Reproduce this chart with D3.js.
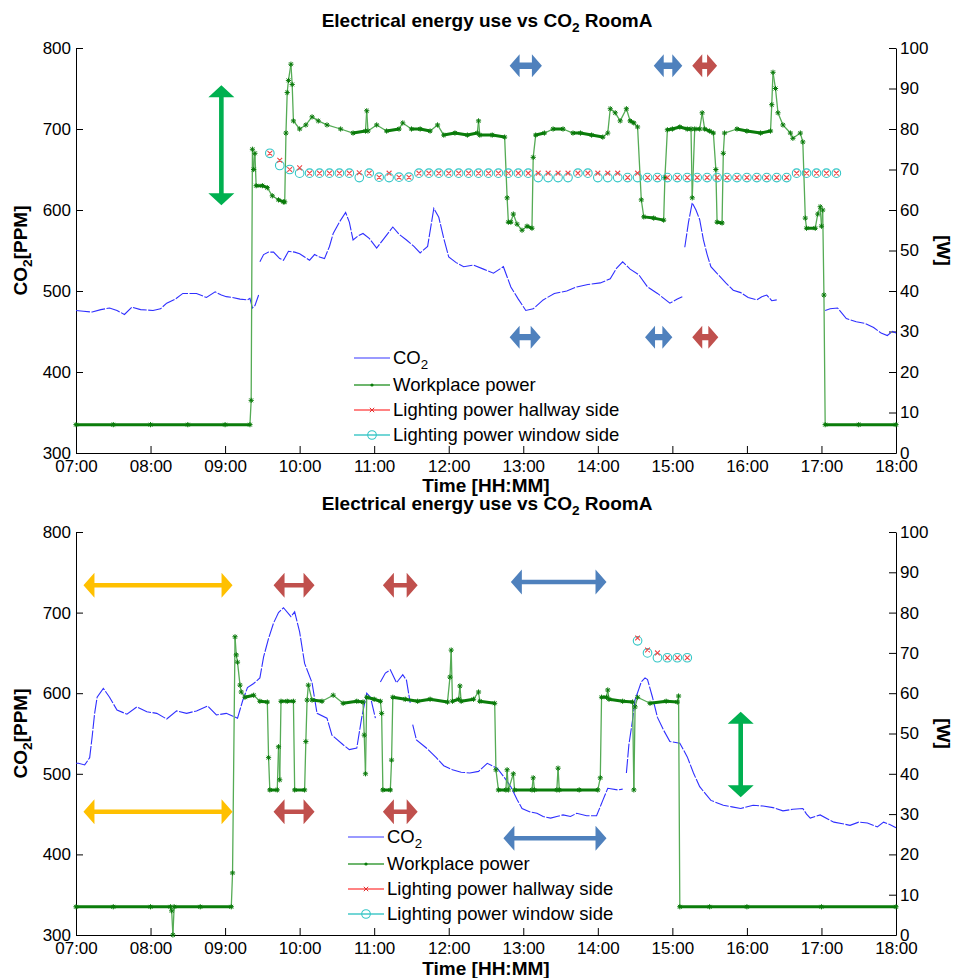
<!DOCTYPE html>
<html>
<head>
<meta charset="utf-8">
<script src="https://cdn.jsdelivr.net/npm/d3@7"></script>
<style>
body { margin: 0; background: #fff; }
svg { display: block; font-family: Arial, "Liberation Sans", sans-serif; }
</style>
</head>
<body>
<svg id="chart" width="955" height="978"></svg>
<script>
// axis ticks
var timeTicks = ["07:00","08:00","09:00","10:00","11:00","12:00","13:00","14:00","15:00","16:00","17:00","18:00"];
var co2Ticks = [300, 400, 500, 600, 700, 800];
var wattTicks = [0, 10, 20, 30, 40, 50, 60, 70, 80, 90, 100];
var seriesNames = ["CO", "Workplace power", "Lighting power hallway side", "Lighting power window side"];

// ---- upper panel ----
var co2A = [["07:00",476],["07:06",475],["07:13",474],["07:20",477],["07:27",479],["07:33",476],["07:39",471],["07:45",480],["07:52",477],["08:02",476],["08:08",478],["08:13",485],["08:20",490],["08:26",497],["08:31",497],["08:37",497],["08:45",492],["08:52",499],["08:57",495],["09:01",493],["09:06",492],["09:12",490],["09:18",489],["09:20",491],["09:22",479],["09:24",482],["09:27",495],["09:27",null],["09:28",536],["09:31",545],["09:35",548],["09:39",548],["09:44",540],["09:47",538],["09:51",549],["09:56",548],["10:00",546],["10:04",542],["10:08",538],["10:12",545],["10:16",542],["10:20",540],["10:24",555],["10:27",571],["10:32",585],["10:37",597],["10:40",585],["10:43",563],["10:47",568],["10:51",571],["10:56",565],["11:02",553],["11:08",565],["11:15",579],["11:20",570],["11:26",563],["11:32",555],["11:37",547],["11:43",555],["11:48",602],["11:52",591],["11:56",565],["12:00",542],["12:06",535],["12:12",530],["12:20",532],["12:28",527],["12:36",522],["12:44",530],["12:50",505],["12:56",490],["13:02",476],["13:08",478],["13:16",489],["13:25",497],["13:35",500],["13:43",505],["13:52",508],["14:02",510],["14:10",515],["14:15",528],["14:20",536],["14:26",527],["14:33",520],["14:40",505],["14:48",497],["14:58",485],["15:04",490],["15:08",493],["15:09",null],["15:10",554],["15:13",585],["15:16",609],["15:19",600],["15:22",588],["15:25",563],["15:28",545],["15:31",530],["15:37",520],["15:43",510],["15:49",501],["15:55",498],["16:01",492],["16:08",489],["16:12",493],["16:16",495],["16:20",488],["16:24",489],["16:40",null],["17:03",476],["17:07",478],["17:13",479],["17:20",466],["17:28",462],["17:35",460],["17:42",455],["17:48",448],["17:53",445],["17:57",450],["18:00",448]];

var workA = [["07:00",7],["07:30",7],["08:00",7],["08:30",7],["09:00",7],["09:20",7],["09:21",13],["09:22",75],["09:23",70],["09:24",74],["09:25",66],["09:30",66],["09:34",65.5],["09:38",63.5],["09:43",62.5],["09:47",62],["09:48",62],["09:49",79],["09:50",89],["09:51",92],["09:53",96],["09:54",91],["09:55",82],["10:00",80],["10:05",81],["10:10",83],["10:15",82],["10:22",81],["10:33",80],["10:43",79],["10:53",79.5],["10:54",84.5],["10:55",79.5],["11:02",81],["11:10",79.5],["11:20",80],["11:23",81.5],["11:30",80],["11:37",80],["11:45",79.5],["11:51",81],["11:56",78.5],["12:05",79],["12:15",78.5],["12:23",79],["12:24",82],["12:25",78.5],["12:35",78.5],["12:45",78],["12:47",63],["12:48",57],["12:50",57],["12:52",59],["12:55",56.5],["12:59",55],["13:03",56],["13:07",55.5],["13:08",73],["13:10",78.5],["13:17",79],["13:24",80],["13:32",80],["13:40",79],["13:46",79],["13:55",78.5],["14:04",78],["14:08",79],["14:10",85],["14:14",84],["14:18",82],["14:23",85],["14:26",82],["14:29",81.5],["14:32",80.5],["14:35",62.5],["14:37",58.3],["14:45",58],["14:53",57.5],["14:54",68],["14:56",79.8],["15:00",80],["15:06",80.5],["15:12",80],["15:15",80],["15:16",63],["15:18",80],["15:22",80],["15:24",84],["15:26",80],["15:30",79.5],["15:33",79],["15:35",70],["15:36",57],["15:40",56.8],["15:41",74],["15:42",79],["15:52",80],["16:00",79.5],["16:11",79],["16:19",79.5],["16:20",86],["16:21",94],["16:23",90],["16:25",84],["16:29",81],["16:35",79],["16:37",77.7],["16:43",79],["16:45",76.8],["16:47",58],["16:48",55.5],["16:55",55.5],["16:57",59],["16:59",60.8],["17:00",56],["17:01",60],["17:02",39],["17:03",7],["17:30",7],["18:00",7]];

// lighting samples every 8 minutes from the first time
var lightStartA = "09:36";
var hallA = [74,72.3,70,70.4,69.1,69.1,69.1,69.1,69.1,69.2,69.1,68.1,69.1,68.1,68.1,
  69.1,69.1,69.1,69.1,69.1,69.1,69.1,69.1,69.1,69.1,69.1,69.1,
  69.1,69.1,69.1,69.1,69.1,69.1,69.1,69.1,69.1,68,69.1,
  68,68,68,68,68,68,68,68,68,68,68,68,68,68,68,
  69.1,69.1,69.1,69.1,69.1];
var windowA = [74,71,70,69.1,69.1,69.1,69.1,69.1,69.1,68,69.1,68.1,68,68.1,68.1,
  69.1,69.1,69.1,69.1,69.1,69.1,69.1,69.1,69.1,69.1,69.1,69.1,
  68,68,68,68,69.1,69.1,68,68,68,68,68,
  68,68,68,68,68,68,68,68,68,68,68,68,68,68,68,
  69.1,69.1,69.1,69.1,69.1];

// annotation arrows in data units (time, ppm)
var arrowsA = [
  {c: "blue", t0: "12:49", t1: "13:15", v: 778},
  {c: "blue", t0: "14:45", t1: "15:08", v: 778},
  {c: "red",  t0: "15:16", t1: "15:36", v: 778},
  {c: "blue", t0: "12:49", t1: "13:14", v: 443},
  {c: "blue", t0: "14:38", t1: "15:00", v: 443},
  {c: "red",  t0: "15:16", t1: "15:37", v: 443}
];
var vArrowsA = [{c: "green", t: "08:57", v0: 754, v1: 606}];

// ---- lower panel ----
var co2B = [["07:00",513],["07:02",513],["07:07",511],["07:11",520],["07:13",546],["07:15",575],["07:17",595],["07:22",606],["07:27",595],["07:33",579],["07:41",574],["07:49",583],["07:57",577],["08:05",575],["08:13",568],["08:21",578],["08:29",575],["08:37",578],["08:46",584],["08:53",573],["09:01",575],["09:10",569],["09:14",590],["09:18",607],["09:23",612],["09:28",619],["09:31",645],["09:35",668],["09:39",687],["09:43",700],["09:47",706],["09:53",695],["09:56",701],["10:00",676],["10:04",637],["10:10",613],["10:14",575],["10:22",569],["10:26",548],["10:35",536],["10:40",530],["10:46",532],["10:50",570],["10:54",600],["10:57",595],["11:01",569],["11:03",null],["11:05",614],["11:09",625],["11:13",629],["11:18",613],["11:23",623],["11:26",616],["11:29",588],["11:30",null],["11:31",561],["11:34",542],["11:42",532],["11:50",520],["11:56",510],["12:03",505],["12:10",502],["12:17",501],["12:24",503],["12:31",513],["12:35",510],["12:39",507],["12:45",495],["12:50",484],["12:55",468],["12:59",457],["13:05",453],["13:11",451],["13:16",447],["13:22",445],["13:27",447],["13:32",449],["13:38",447],["13:43",451],["13:51",448],["13:59",448],["14:04",467],["14:08",482],["14:16",480],["14:20",481],["14:21",null],["14:23",501],["14:25",536],["14:28",567],["14:30",592],["14:33",605],["14:35",614],["14:38",619],["14:40",617],["14:44",595],["14:48",570],["14:53",554],["14:58",540],["15:06",538],["15:12",521],["15:17",501],["15:22",484],["15:31",467],["15:41",461],["15:48",459],["15:55",457],["16:05",461],["16:13",460],["16:21",458],["16:29",454],["16:37",456],["16:45",457],["16:48",450],["16:51",445],["16:59",449],["17:05",444],["17:10",440],["17:17",438],["17:23",436],["17:30",440],["17:37",439],["17:45",434],["17:50",440],["17:55",437],["18:00",433]];

var workB = [["07:00",7],["07:30",7],["08:00",7],["08:16",7],["08:17",6],["08:18",0],["08:19",7],["08:40",7],["09:05",7],["09:06",15.4],["09:08",74],["09:09",69.5],["09:10",67.7],["09:12",62],["09:13",60.3],["09:16",59],["09:23",59.5],["09:28",58],["09:34",57.8],["09:35",44],["09:36",36],["09:42",36],["09:43",46.7],["09:44",38.5],["09:45",58],["09:50",58],["09:55",58],["09:56",36],["10:04",36],["10:05",48],["10:06",58.3],["10:07",62],["10:10",58.3],["10:18",58],["10:27",59.5],["10:35",57.5],["10:46",58],["10:51",57.8],["10:52",49.6],["10:53",40],["10:54",59],["11:00",58.5],["11:05",58],["11:06",55],["11:07",36],["11:13",36],["11:14",43.4],["11:15",59],["11:25",58.5],["11:35",58],["11:45",58.5],["11:59",57.8],["12:01",64],["12:02",70.7],["12:03",58],["12:08",58.5],["12:09",61.8],["12:10",58],["12:20",58.5],["12:24",60.3],["12:25",58],["12:37",57.5],["12:38",41],["12:40",36],["12:46",36],["12:47",41],["12:48",36],["12:52",40],["12:53",36],["13:07",36],["13:08",39],["13:09",36],["13:27",36],["13:28",41.4],["13:29",36],["13:45",36],["14:00",36],["14:02",39],["14:03",59],["14:07",59],["14:08",60.8],["14:09",58.5],["14:20",58],["14:28",57.8],["14:29",36],["14:30",56.6],["14:32",59],["14:42",57.5],["14:55",58],["15:04",57.8],["15:05",59.3],["15:06",7],["15:30",7],["16:00",7],["17:00",7],["18:00",7]];

var lightStartB = "14:32";
var hallB = [73.7, 70.7, 70, 68.8, 68.8, 68.8];
var windowB = [73, 70, 68.8, 68.8, 68.8, 68.8];

var arrowsB = [
  {c: "yellow", t0: "07:06", t1: "09:06", v: 734},
  {c: "red",    t0: "09:39", t1: "10:12", v: 734},
  {c: "red",    t0: "11:07", t1: "11:35", v: 734},
  {c: "blue",   t0: "12:50", t1: "14:07", v: 738},
  {c: "yellow", t0: "07:06", t1: "09:06", v: 453},
  {c: "red",    t0: "09:39", t1: "10:12", v: 453},
  {c: "red",    t0: "11:07", t1: "11:35", v: 453},
  {c: "blue",   t0: "12:44", t1: "14:07", v: 420}
];
var vArrowsB = [{c: "green", t: "15:55", v0: 577, v1: 471}];

var lightStepMin = 8;

var arrowColor = {blue: "#4f81bd", red: "#c0504d", yellow: "#ffc000", green: "#00b050"};

var panels = [
  {top: 48, bottom: 453, titleY: 27, xlabY: 492, legX: 354, legY: 358, small: true,
   co2: co2A, work: workA, lightStart: lightStartA, hall: hallA, win: windowA, arrows: arrowsA, vArrows: vArrowsA},
  {top: 532, bottom: 935, titleY: 510, xlabY: 975, legX: 348, legY: 837, small: false,
   co2: co2B, work: workB, lightStart: lightStartB, hall: hallB, win: windowB, arrows: arrowsB, vArrows: vArrowsB}
];

var parseT = d3.timeParse("%H:%M");
var fmtT = d3.timeFormat("%H:%M");
var left = 76, right = 896;
var svg = d3.select("#chart");

function subText(sel, pre, sub, post) {
	sel.append("tspan").text(pre);
	sel.append("tspan").attr("dy", 5).attr("font-size", "72%").text(sub);
	if (post) sel.append("tspan").attr("dy", -5).text(post);
}

function starPath(p) {
	var r = 2.6, q = 1.9;
	return "M" + (p[0] - r) + "," + p[1] + "h" + 2 * r +
		"M" + p[0] + "," + (p[1] - r) + "v" + 2 * r +
		"M" + (p[0] - q) + "," + (p[1] - q) + "l" + 2 * q + "," + 2 * q +
		"M" + (p[0] - q) + "," + (p[1] + q) + "l" + 2 * q + "," + (-2 * q);
}
function crossPath(p, r) {
	return "M" + (p[0] - r) + "," + (p[1] - r) + "l" + 2 * r + "," + 2 * r +
		"M" + (p[0] - r) + "," + (p[1] + r) + "l" + 2 * r + "," + (-2 * r);
}

panels.forEach(function (P, pi) {
	var x = d3.scaleTime().domain([parseT("07:00"), parseT("18:00")]).range([left, right]);
	var yL = d3.scaleLinear().domain([300, 800]).range([P.bottom, P.top]);
	var yR = d3.scaleLinear().domain([0, 100]).range([P.bottom, P.top]);
	var g = svg.append("g").attr("class", "panel" + pi);

	// axes
	var ax = g.append("g").attr("transform", "translate(0," + P.bottom + ")")
		.call(d3.axisBottom(x).tickValues(timeTicks.map(parseT)).tickFormat(fmtT)
			.tickSizeInner(-7).tickSizeOuter(0).tickPadding(7));
	var ayl = g.append("g").attr("transform", "translate(" + left + ",0)")
		.call(d3.axisLeft(yL).tickValues(co2Ticks).tickSizeInner(-7).tickSizeOuter(0).tickPadding(5));
	var ayr = g.append("g").attr("transform", "translate(" + right + ",0)")
		.call(d3.axisRight(yR).tickValues(wattTicks).tickSizeInner(-7).tickSizeOuter(0).tickPadding(4));
	[ax, ayl, ayr].forEach(function (a) {
		a.attr("font-size", 17).attr("font-family", "Arial, 'Liberation Sans', sans-serif");
		a.selectAll("path,line").attr("stroke", "#000");
		a.selectAll("text").attr("fill", "#000");
	});

	// titles
	subText(g.append("text").attr("x", 487).attr("y", P.titleY).attr("text-anchor", "middle")
		.attr("font-weight", "bold").attr("font-size", 19), "Electrical energy use vs CO", "2", " RoomA");
	g.append("text").attr("x", 486).attr("y", P.xlabY).attr("text-anchor", "middle")
		.attr("font-weight", "bold").attr("font-size", 19).text("Time [HH:MM]");
	var mid = (P.top + P.bottom) / 2;
	subText(g.append("text").attr("transform", "translate(27," + mid + ") rotate(-90)").attr("text-anchor", "middle")
		.attr("font-weight", "bold").attr("font-size", 19), "CO", "2", "[PPM]");
	g.append("text").attr("transform", "translate(937," + mid + ") rotate(90)").attr("text-anchor", "middle")
		.attr("font-weight", "bold").attr("font-size", 19).text("[W]");

	// CO2 line
	var co2Line = d3.line()
		.defined(function (d) { return d[1] != null; })
		.x(function (d) { return x(parseT(d[0])); })
		.y(function (d) { return yL(d[1]); });
	g.append("path").datum(P.co2).attr("d", co2Line)
		.attr("fill", "none").attr("stroke", "#2f2fff").attr("stroke-width", 1.1)
		.attr("stroke-dasharray", "14,1.5");

	// workplace power: flat stretches look like a band of markers, steps are thin
	var pts = P.work.map(function (d) { return [x(parseT(d[0])), yR(d[1])]; });
	var segs = d3.pairs(pts);
	g.append("g").selectAll("line").data(segs).enter().append("line")
		.attr("x1", function (s) { return s[0][0]; }).attr("y1", function (s) { return s[0][1]; })
		.attr("x2", function (s) { return s[1][0]; }).attr("y2", function (s) { return s[1][1]; })
		.attr("stroke", function (s) { return Math.abs(s[1][1] - s[0][1]) < 4 ? "#0b7d0b" : "#55ab55"; })
		.attr("stroke-width", function (s) { return Math.abs(s[1][1] - s[0][1]) < 4 ? 3 : 1.3; })
		.attr("stroke-linecap", "round");
	g.append("path").attr("d", pts.map(starPath).join(""))
		.attr("fill", "none").attr("stroke", "#0a7a0a").attr("stroke-width", 1);

	// lighting power
	var t0 = parseT(P.lightStart);
	function lt(i) { return x(d3.timeMinute.offset(t0, i * lightStepMin)); }
	g.append("g").selectAll("circle").data(P.win).enter().append("circle")
		.attr("cx", function (d, i) { return lt(i); })
		.attr("cy", function (d) { return yR(d); })
		.attr("r", 4.3).attr("fill", "none").attr("stroke", "#33c6c6").attr("stroke-width", 1.1);
	g.append("path").attr("d", P.hall.map(function (d, i) { return crossPath([lt(i), yR(d)], 2.4); }).join(""))
		.attr("fill", "none").attr("stroke", "#f04848").attr("stroke-width", 1.1);

	// annotation arrows
	var s = P.small ? {hl: 10, hh: 11.5, sh: 3.2} : {hl: 11, hh: 12.5, sh: 2.2};
	g.append("g").selectAll("path").data(P.arrows).enter().append("path")
		.attr("fill", function (a) { return arrowColor[a.c]; })
		.attr("d", function (a) {
			var x0 = x(parseT(a.t0)), x1 = x(parseT(a.t1)), y = yL(a.v);
			return "M" + x0 + "," + y +
				"L" + (x0 + s.hl) + "," + (y - s.hh) + "V" + (y - s.sh) + "H" + (x1 - s.hl) + "V" + (y - s.hh) +
				"L" + x1 + "," + y +
				"L" + (x1 - s.hl) + "," + (y + s.hh) + "V" + (y + s.sh) + "H" + (x0 + s.hl) + "V" + (y + s.hh) + "Z";
		});
	g.append("g").selectAll("path").data(P.vArrows).enter().append("path")
		.attr("fill", function (a) { return arrowColor[a.c]; })
		.attr("d", function (a) {
			var cx = x(parseT(a.t)), y0 = yL(a.v0), y1 = yL(a.v1), hl = 12, hw = 13, sw = 2.3;
			return "M" + cx + "," + y0 +
				"L" + (cx + hw) + "," + (y0 + hl) + "H" + (cx + sw) + "V" + (y1 - hl) + "H" + (cx + hw) +
				"L" + cx + "," + y1 +
				"L" + (cx - hw) + "," + (y1 - hl) + "H" + (cx - sw) + "V" + (y0 + hl) + "H" + (cx - hw) + "Z";
		});

	// legend
	var leg = g.append("g").attr("transform", "translate(" + P.legX + "," + P.legY + ")");
	var rowY = [0, 27, 52, 77];
	var lineCol = ["#7878ff", "#3d9e3d", "#ff5a5a", "#45c8c8"];
	seriesNames.forEach(function (name, i) {
		var row = leg.append("g").attr("transform", "translate(0," + rowY[i] + ")");
		row.append("line").attr("x1", 0).attr("x2", 36).attr("y1", 0).attr("y2", 0)
			.attr("stroke", lineCol[i]).attr("stroke-width", 1.6);
		var t = row.append("text").attr("x", 39).attr("y", 6).attr("font-size", 18.5).attr("fill", "#000");
		if (i === 0) subText(t, name, "2");
		else t.text(name);
	});
	leg.append("circle").attr("cx", 18).attr("cy", rowY[1]).attr("r", 1.6).attr("fill", "#0a7a0a");
	leg.append("path").attr("d", crossPath([18, rowY[2]], 2.2)).attr("stroke", "#e03030").attr("fill", "none");
	leg.append("circle").attr("cx", 18).attr("cy", rowY[3]).attr("r", 4.3)
		.attr("fill", "none").attr("stroke", "#33c6c6").attr("stroke-width", 1.1);
});
</script>
</body>
</html>
